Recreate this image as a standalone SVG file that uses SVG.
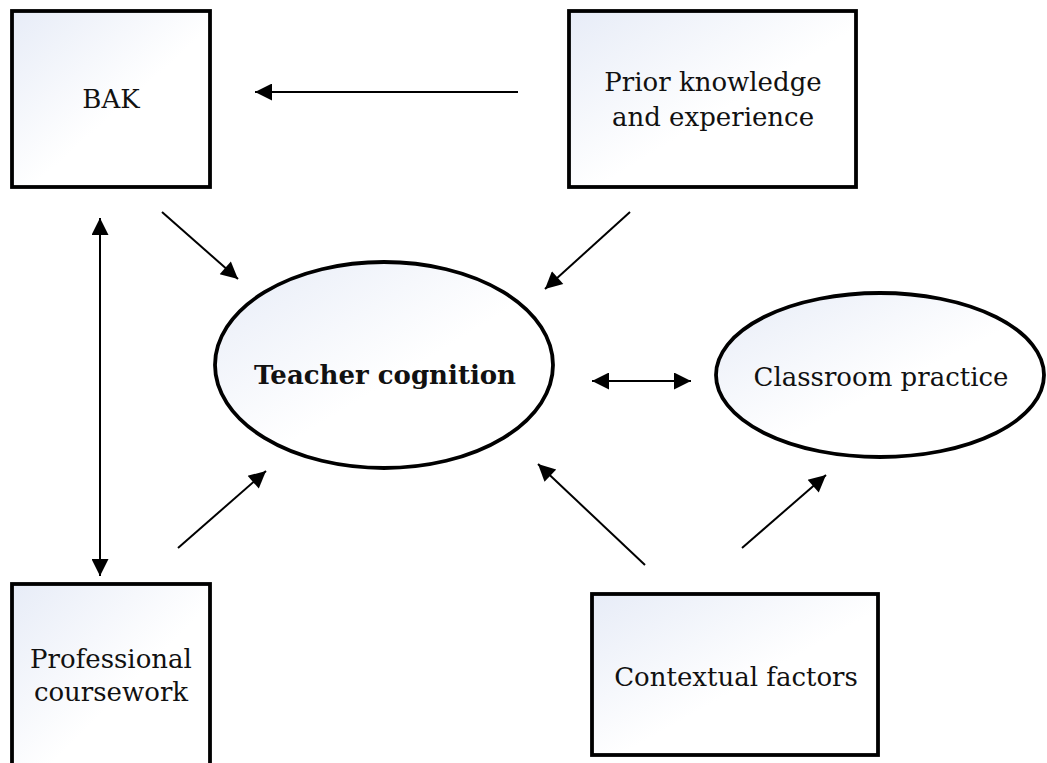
<svg xmlns="http://www.w3.org/2000/svg" width="1047" height="763" viewBox="0 0 1047 763">
<defs>
<linearGradient id="g" x1="0" y1="0" x2="1" y2="1">
<stop offset="0" stop-color="#e7ecf7"/>
<stop offset="0.55" stop-color="#ffffff"/>
</linearGradient>
<marker id="ah" viewBox="0 0 10 10" refX="10" refY="5" markerWidth="12.5" markerHeight="8.5" markerUnits="strokeWidth" orient="auto-start-reverse">
<path d="M0,0 L10,5 L0,10 Z" fill="#000"/>
</marker>
<style>
.box{fill:url(#g);stroke:#000;stroke-width:3.8}
.t{font-family:"DejaVu Serif","Liberation Serif",serif;font-size:26px;fill:#111;text-anchor:middle}
.b{font-weight:bold}
.c line{stroke:#000;stroke-width:2;marker-end:url(#ah)}
</style>
</defs>
<rect width="1047" height="763" fill="#fff"/>
<g id="bak"><rect class="box" x="12" y="11" width="198" height="176"/><text class="t" x="111" y="108">BAK</text></g>
<g id="prior"><rect class="box" x="569" y="11" width="287" height="176"/><text class="t" x="713" y="91">Prior knowledge</text><text class="t" x="713" y="126">and experience</text></g>
<g id="teacher"><ellipse class="box" cx="384" cy="365" rx="169" ry="103"/><text class="t b" x="385" y="384">Teacher cognition</text></g>
<g id="classroom"><ellipse class="box" cx="880" cy="375" rx="164" ry="82"/><text class="t" x="881" y="386">Classroom practice</text></g>
<g id="professional"><rect class="box" x="12" y="584" width="198" height="200"/><text class="t" x="111" y="668">Professional</text><text class="t" x="111" y="701">coursework</text></g>
<g id="contextual"><rect class="box" x="592" y="594" width="286" height="161"/><text class="t" x="736" y="686">Contextual factors</text></g>
<g class="c" id="connectors">
<line x1="518" y1="92" x2="255" y2="92"/>
<line x1="162" y1="212" x2="238" y2="279"/>
<line x1="630" y1="212" x2="545" y2="289"/>
<line x1="100" y1="218" x2="100" y2="576" marker-start="url(#ah)"/>
<line x1="178" y1="548" x2="266" y2="471"/>
<line x1="592" y1="381" x2="691" y2="381" marker-start="url(#ah)"/>
<line x1="645" y1="565" x2="538" y2="464"/>
<line x1="742" y1="548" x2="826" y2="475"/>
</g>
</svg>
